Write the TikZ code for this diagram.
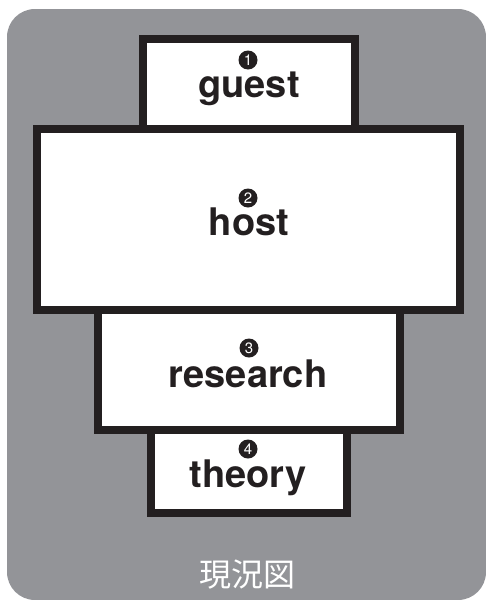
\documentclass[tikz,border=0pt]{standalone}
\usepackage{fontspec}
\setmainfont{TeX Gyre Heros}
\newfontfamily\jpfont{Noto Sans CJK JP}
\definecolor{bggray}{RGB}{147,148,152}
\definecolor{boxline}{RGB}{35,31,32}
\tikzset{
  layer/.style={draw=boxline,line width=8pt,fill=white,inner sep=0pt},
  num/.style={circle,fill=boxline,text=white,inner sep=0pt,minimum size=19pt,font=\fontsize{15}{15}\selectfont},
  word/.style={anchor=base,inner sep=0pt,text=boxline,font=\bfseries\fontsize{38}{38}\selectfont}
}
\begin{document}
\begin{tikzpicture}[x=1pt,y=-1pt]
    \useasboundingbox (0,0) rectangle (486,600);
    \fill[bggray,rounded corners=28pt] (7,9) rectangle (486,600);
    \node[layer,minimum width=212pt,minimum height=90pt] (guestbox) at (249,84) {};
    \node[layer,minimum width=302pt,minimum height=120pt] (researchbox) at (249,370) {};
    \node[layer,minimum width=196pt,minimum height=83pt] (theorybox) at (249,471.5) {};
    \node[layer,minimum width=423pt,minimum height=181pt] (hostbox) at (248.5,219.5) {};
    % labels
    \node[word] (guest) at (249,97) {guest};
    \node[num] (n1) at (248,60) {1};
    \node[word] (host) at (249,235) {host};
    \node[num] (n2) at (248,198) {2};
    \node[word] (research) at (248,387) {research};
    \node[num] (n3) at (249,348) {3};
    \node[word] (theory) at (248,487) {theory};
    \node[num] (n4) at (248,449) {4};
    \node[text=white,font=\jpfont\fontsize{32}{32}\selectfont] (caption) at (247,575) {現況図};
\end{tikzpicture}
\end{document}
